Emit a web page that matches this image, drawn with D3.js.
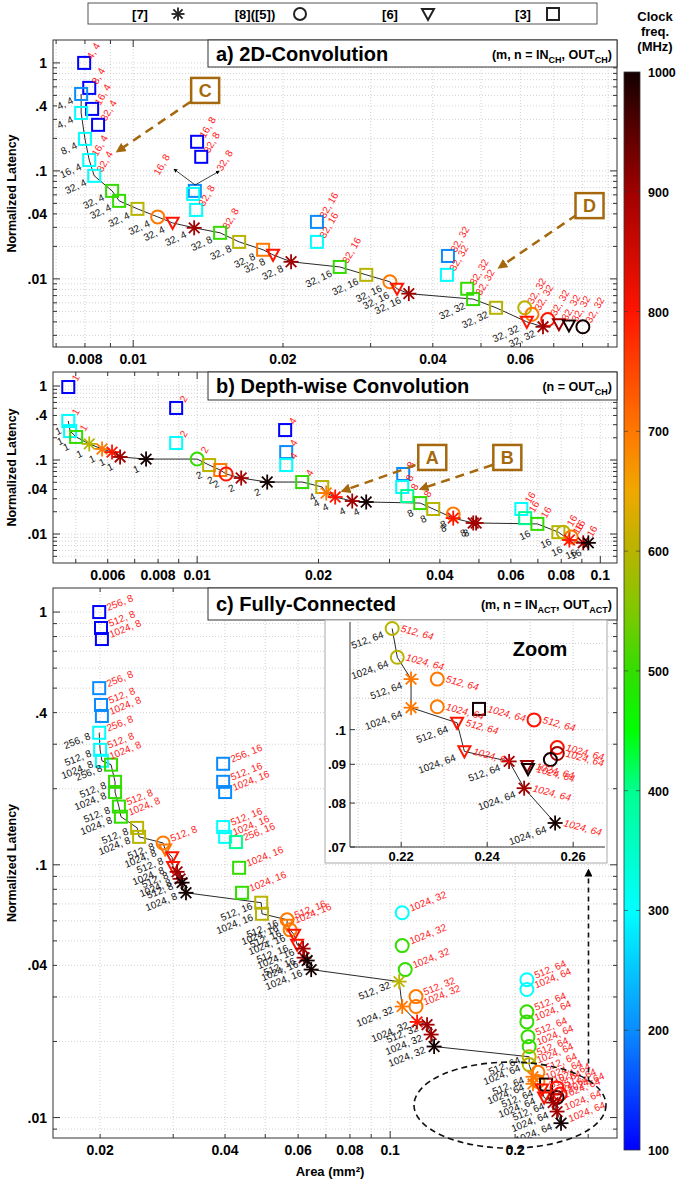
<!DOCTYPE html>
<html>
<head>
<meta charset="utf-8">
<script src="https://cdn.jsdelivr.net/npm/d3@7"></script>
<style>
  body { margin: 0; background: #fff; }
  svg { font-family: "Liberation Sans", Arial, Helvetica, sans-serif; }
</style>
</head>
<body>
<div id="wrapper"></div>
<script>
// ---- colour map (clock frequency, MHz) ----
const freqStops  = [100, 200, 300, 400, 450, 500, 550, 600, 650, 700, 800, 900, 1000]
const freqColors = ["#0000ff", "#0a8cff", "#00ffff", "#00ff90", "#00ff00", "#33dd00", "#80c800",
                    "#b8b400", "#f0a800", "#ff7800", "#ff1400", "#a00000", "#140000"]
const colorbarTicks = [100, 200, 300, 400, 500, 600, 700, 800, 900, 1000]

// ---- legend ----
const legendRefs   = ["[7]", "[8]([5])", "[6]", "[3]"]
const legendShapes = ["ast", "ci", "tri", "sq"]

// ---- axis ticks ----
const yTickValues = [1, 0.4, 0.1, 0.04, 0.01]
const yTickLabels = ["1", ".4", ".1", ".04", ".01"]
const xTicksA  = [0.008, 0.01, 0.02, 0.04, 0.06]
const xLabelsA = ["0.008", "0.01", "0.02", "0.04", "0.06"]
const xTicksB  = [0.006, 0.008, 0.01, 0.02, 0.04, 0.06, 0.08, 0.1]
const xLabelsB = ["0.006", "0.008", "0.01", "0.02", "0.04", "0.06", "0.08", "0.1"]
const xTicksC  = [0.02, 0.04, 0.06, 0.08, 0.1, 0.2]
const xLabelsC = ["0.02", "0.04", "0.06", "0.08", "0.1", "0.2"]
const zoomXTicks  = [0.22, 0.24, 0.26]
const zoomXLabels = ["0.22", "0.24", "0.26"]
const zoomYTicks  = [0.1, 0.09, 0.08, 0.07]
const zoomYLabels = [".1", ".09", ".08", ".07"]

// ---- data: [area mm2, normalized latency, MHz, marker, on front, black label, red label] ----
const conv2d = [
  [0.00797, 1.0,    100, "sq", 0, "", "4, 4"],
  [0.00816, 0.587,  100, "sq", 0, "", "8, 4"],
  [0.00786, 0.516,  200, "sq", 1, "4, 4", ""],
  [0.00827, 0.375,  100, "sq", 0, "", "16, 4"],
  [0.00786, 0.344,  300, "sq", 1, "4, 4", ""],
  [0.0085,  0.267,  100, "sq", 0, "", "32, 4"],
  [0.0080,  0.198,  300, "sq", 1, "8, 4", ""],
  [0.00816, 0.126,  300, "sq", 1, "16, 4", "16, 4"],
  [0.00835, 0.090,  300, "sq", 1, "32, 4", "32, 4"],
  [0.00907, 0.0653, 500, "sq", 1, "32, 4", ""],
  [0.00937, 0.0528, 500, "sq", 1, "32, 4", ""],
  [0.0102,  0.0445, 600, "sq", 1, "32, 4", ""],
  [0.0112,  0.0375, 700, "ci", 1, "32, 4", ""],
  [0.0120,  0.0330, 800, "tri", 1, "32, 4", ""],
  [0.01326, 0.0297, 900, "ast", 1, "32, 4", ""],
  [0.01344, 0.186,  100, "sq", 0, "", "16, 8"],
  [0.0137,  0.135,  100, "sq", 0, "", "32, 8"],
  [0.0133,  0.0653, 200, "sq", 0, "", ""],
  [0.0132,  0.0612, 300, "sq", 0, "", ""],
  [0.01338, 0.0435, 300, "sq", 0, "", "32, 8"],
  [0.01495, 0.0267, 500, "sq", 1, "32, 8", "32, 8"],
  [0.01633, 0.0220, 600, "sq", 1, "32, 8", ""],
  [0.01824, 0.0186, 700, "sq", 1, "32, 8", ""],
  [0.0191,  0.0167, 800, "tri", 1, "32, 8", ""],
  [0.02076, 0.0144, 900, "ast", 1, "32, 8", ""],
  [0.0234,  0.0337, 200, "sq", 0, "", "32, 16"],
  [0.0234,  0.0220, 300, "sq", 0, "", "32, 16"],
  [0.0260,  0.0129, 500, "sq", 1, "32, 16", "32, 16"],
  [0.0294,  0.0109, 600, "sq", 1, "32, 16", ""],
  [0.0328,  0.0094, 700, "ci", 1, "32, 16", ""],
  [0.0339,  0.0081, 800, "tri", 1, "32, 16", ""],
  [0.0358,  0.0073, 900, "ast", 1, "32, 16", ""],
  [0.0429,  0.0163, 200, "sq", 0, "", "32, 32"],
  [0.0427,  0.0109, 300, "sq", 0, "", "32, 32"],
  [0.0469,  0.0081, 500, "sq", 0, "", "32, 32"],
  [0.0482,  0.0065, 500, "sq", 1, "32, 32", "32, 32"],
  [0.0536,  0.0054, 600, "sq", 1, "32, 32", ""],
  [0.0612,  0.0054, 600, "ci", 0, "", "32, 32"],
  [0.0633,  0.0047, 700, "ci", 0, "", "32, 32"],
  [0.0618,  0.0040, 800, "tri", 1, "32, 32", ""],
  [0.0681,  0.0042, 800, "ci", 0, "", "32, 32"],
  [0.0666,  0.0036, 900, "ast", 1, "32, 32", ""],
  [0.0717,  0.0038, 900, "tri", 0, "", "32, 32"],
  [0.0751,  0.0037, 1000, "tri", 0, "", "32, 32"],
  [0.0801,  0.0036, 1000, "ci", 0, "", "32, 32"],
]

const depthwise = [
  [0.00479, 0.969,  100, "sq", 0, "", "1"],
  [0.00479, 0.337,  300, "sq", 1, "1", "1"],
  [0.00484, 0.246,  300, "sq", 1, "1", ""],
  [0.00501, 0.205,  500, "sq", 1, "1", "1"],
  [0.00540, 0.165,  600, "ast", 1, "1", ""],
  [0.00581, 0.141,  700, "ast", 1, "1", ""],
  [0.00615, 0.128,  800, "ast", 1, "1", ""],
  [0.00644, 0.110,  900, "ast", 1, "1", ""],
  [0.00747, 0.103,  1000, "ast", 1, "1", ""],
  [0.00887, 0.505,  100, "sq", 0, "", "2"],
  [0.00887, 0.170,  300, "sq", 0, "", "2"],
  [0.0100,  0.103,  500, "ci", 1, "", "2"],
  [0.01071, 0.0855, 600, "sq", 1, "2", ""],
  [0.01141, 0.0732, 700, "sq", 1, "2", ""],
  [0.0118,  0.0647, 800, "ci", 1, "2", ""],
  [0.01286, 0.0571, 900, "ast", 1, "2", ""],
  [0.01492, 0.0504, 1000, "ast", 1, "2", ""],
  [0.01653, 0.254,  100, "sq", 0, "", "4"],
  [0.01663, 0.128,  200, "sq", 0, "", "4"],
  [0.01663, 0.0855, 300, "sq", 0, "", "4"],
  [0.01822, 0.0504, 500, "sq", 1, "", "4"],
  [0.02043, 0.0432, 600, "sq", 1, "4", ""],
  [0.0209,  0.0358, 700, "ast", 1, "4", ""],
  [0.0220,  0.0316, 800, "ast", 1, "4", ""],
  [0.02425, 0.0279, 900, "ast", 1, "4", ""],
  [0.02626, 0.0271, 1000, "ast", 1, "4", ""],
  [0.03244, 0.0647, 200, "sq", 0, "", "8"],
  [0.03226, 0.0432, 300, "sq", 0, "", "8"],
  [0.0332,  0.0326, 400, "sq", 0, "", "8"],
  [0.03575, 0.0262, 500, "sq", 1, "8", "8"],
  [0.03851, 0.0218, 600, "sq", 1, "8", ""],
  [0.04317, 0.0186, 700, "ci", 0, "8", ""],
  [0.04317, 0.0164, 800, "ast", 1, "8", ""],
  [0.04839, 0.0141, 900, "ast", 1, "8", ""],
  [0.0492,  0.0141, 900, "ast", 1, "8", ""],
  [0.0637,  0.0218, 300, "sq", 0, "", "16"],
  [0.0651,  0.0164, 400, "sq", 0, "", "16"],
  [0.0698,  0.0137, 500, "sq", 1, "16", "16"],
  [0.0787,  0.0106, 600, "sq", 1, "16", ""],
  [0.0809,  0.0106, 600, "ci", 0, "", "16"],
  [0.0847,  0.0091, 700, "ci", 0, "", "16"],
  [0.0838,  0.0083, 800, "ast", 1, "16", "16"],
  [0.0907,  0.0076, 900, "ast", 1, "16", "16"],
  [0.0934,  0.0076, 1000, "ast", 1, "16", ""],
]

const fullyConnected = [
  [0.0199, 1.0,   100, "sq", 0, "", "256, 8"],
  [0.0201, 0.865, 100, "sq", 0, "", "512, 8"],
  [0.0202, 0.782, 100, "sq", 0, "", "1024, 8"],
  [0.0199, 0.50,  200, "sq", 0, "", "256, 8"],
  [0.0201, 0.429, 200, "sq", 0, "", "512, 8"],
  [0.0202, 0.388, 200, "sq", 0, "", "1024, 8"],
  [0.0199, 0.333, 300, "sq", 1, "256, 8", "256, 8"],
  [0.0200, 0.285, 300, "sq", 1, "512, 8", "512, 8"],
  [0.0202, 0.258, 300, "sq", 1, "1024, 8", "1024, 8"],
  [0.02125, 0.249, 500, "sq", 1, "256, 8", ""],
  [0.02173, 0.213, 500, "sq", 1, "512, 8", ""],
  [0.02173, 0.194, 500, "sq", 1, "1024, 8", ""],
  [0.0222,  0.170, 500, "sq", 1, "512, 8", "512, 8"],
  [0.02245, 0.155, 500, "sq", 1, "1024, 8", "1024, 8"],
  [0.02456, 0.140, 600, "sq", 1, "512, 8", ""],
  [0.02483, 0.129, 600, "sq", 1, "1024, 8", ""],
  [0.02837, 0.122, 700, "ci", 1, "512, 8", "512, 8"],
  [0.02869, 0.115, 700, "tri", 1, "1024, 8", ""],
  [0.02982, 0.107, 800, "tri", 1, "512, 8", ""],
  [0.02998, 0.098, 800, "tri", 1, "1024, 8", ""],
  [0.03065, 0.0938, 900, "ast", 1, "512, 8", ""],
  [0.03117, 0.088,  900, "ast", 1, "1024, 8", ""],
  [0.03151, 0.085,  1000, "ast", 1, "512, 8", ""],
  [0.03221, 0.0775, 1000, "ast", 1, "1024, 8", ""],
  [0.03958, 0.251, 200, "sq", 0, "", "256, 16"],
  [0.03958, 0.213, 200, "sq", 0, "", "512, 16"],
  [0.04002, 0.194, 200, "sq", 0, "", "1024, 16"],
  [0.03958, 0.141, 300, "sq", 0, "", "512, 16"],
  [0.04002, 0.129, 300, "sq", 0, "", "1024, 16"],
  [0.0425,  0.123, 400, "sq", 0, "", "256, 16"],
  [0.04325, 0.0973, 500, "sq", 0, "", "1024, 16"],
  [0.04396, 0.0775, 500, "sq", 0, "", "1024, 16"],
  [0.0489,  0.0708, 600, "sq", 1, "512, 16", ""],
  [0.0491,  0.064,  600, "sq", 1, "1024, 16", ""],
  [0.05644, 0.0606, 700, "ci", 1, "512, 16", "512, 16"],
  [0.05644, 0.0579, 700, "tri", 1, "1024, 16", "1024, 16"],
  [0.0574,  0.0553, 700, "ci", 1, "512, 16", ""],
  [0.05868, 0.0529, 800, "tri", 1, "1024, 16", ""],
  [0.05967, 0.0483, 800, "tri", 1, "512, 16", ""],
  [0.06169, 0.0466, 900, "ast", 1, "1024, 16", ""],
  [0.06203, 0.0429, 900, "ast", 1, "512, 16", ""],
  [0.0631,  0.0418, 1000, "ast", 1, "1024, 16", ""],
  [0.06451, 0.0385, 1000, "ast", 1, "1024, 16", ""],
  [0.1069, 0.0646, 300, "ci", 0, "", "1024, 32"],
  [0.1069, 0.0479, 500, "ci", 0, "", "1024, 32"],
  [0.1087, 0.0385, 500, "ci", 0, "", "1024, 32"],
  [0.1051, 0.0345, 600, "ast", 1, "512, 32", ""],
  [0.1154, 0.0301, 700, "ci", 0, "", "512, 32"],
  [0.1154, 0.0275, 700, "ci", 0, "", "1024, 32"],
  [0.1069, 0.0275, 700, "ast", 1, "1024, 32", ""],
  [0.1161, 0.0239, 800, "ast", 1, "1024, 32", ""],
  [0.1227, 0.0233, 900, "ast", 1, "512, 32", ""],
  [0.1255, 0.0213, 900, "ast", 1, "1024, 32", ""],
  [0.1276, 0.0191, 1000, "ast", 1, "1024, 32", ""],
  [0.2135, 0.0351, 300, "ci", 0, "", "512, 64"],
  [0.2135, 0.0321, 300, "ci", 0, "", "1024, 64"],
  [0.2135, 0.0262, 500, "ci", 0, "", "512, 64"],
  [0.2135, 0.0239, 500, "ci", 0, "", "1024, 64"],
  [0.2148, 0.0209, 500, "ci", 0, "", "512, 64"],
  [0.2162, 0.0191, 500, "ci", 0, "", "1024, 64"],
  [0.2162, 0.0174, 600, "ci", 1, "512, 64", "512, 64"],
  [0.2162, 0.0162, 600, "ci", 1, "1024, 64", "1024, 64"],
  [0.2209, 0.0145, 700, "ast", 1, "512, 64", ""],
  [0.227,  0.0151, 700, "ci", 0, "", "512, 64"],
  [0.2209, 0.0136, 700, "ast", 1, "1024, 64", ""],
  [0.227,  0.0139, 700, "ci", 0, "", "1024, 64"],
  [0.2375, 0.0135, 1000, "sq", 0, "", "1024, 64"],
  [0.2322, 0.0129, 800, "tri", 1, "512, 64", "512, 64"],
  [0.2349, 0.0120, 800, "tri", 1, "1024, 64", "1024, 64"],
  [0.2524, 0.0131, 800, "ci", 0, "", "512, 64"],
  [0.2567, 0.0124, 800, "ci", 0, "", "1024, 64"],
  [0.2524, 0.0120, 1000, "ci", 0, "", ""],
  [0.247,  0.01146, 900, "ast", 1, "512, 64", ""],
  [0.251,  0.0118, 900, "tri", 0, "", "1024, 64"],
  [0.2524, 0.01056, 900, "ast", 1, "1024, 64", "1024, 64"],
  [0.258,  0.0095, 1000, "ast", 1, "1024, 64", "1024, 64"],
]

const fcZoom = [
  [0.2179, 0.136,  600, "ci", 1, "512, 64", "512, 64"],
  [0.2191, 0.1246, 600, "ci", 1, "1024, 64", "1024, 64"],
  [0.2223, 0.1166, 700, "ast", 1, "512, 64", ""],
  [0.2223, 0.1069, 700, "ast", 1, "1024, 64", ""],
  [0.2330, 0.1021, 800, "tri", 1, "512, 64", "512, 64"],
  [0.2347, 0.0936, 800, "tri", 1, "1024, 64", "1024, 64"],
  [0.2451, 0.0908, 900, "ast", 1, "512, 64", ""],
  [0.2486, 0.0837, 900, "ast", 1, "1024, 64", "1024, 64"],
  [0.2558, 0.0753, 1000, "ast", 1, "1024, 64", "1024, 64"],
  [0.2284, 0.1166, 700, "ci", 0, "", "512, 64"],
  [0.2284, 0.1072, 700, "ci", 0, "", "1024, 64"],
  [0.2381, 0.1065, 1000, "sq", 0, "", "1024, 64"],
  [0.2509, 0.103,  800, "ci", 0, "", "512, 64"],
  [0.2493, 0.0895, 900, "tri", 0, "", "1024, 64"],
  [0.2495, 0.0887, 1000, "tri", 0, "", "1024, 64"],
  [0.2563, 0.0947, 800, "ci", 0, "", "1024, 64"],
  [0.2563, 0.0930, 900, "ci", 0, "", "1024, 64"],
  [0.2547, 0.0913, 1000, "ci", 0, "", ""],
]

// ---- call-outs (data coordinates) ----
const calloutBoxes = [
  { panel: "a", text: "C", at: [0.01395, 0.562], from: [0.01302, 0.435], to: [0.0094, 0.157] },
  { panel: "a", text: "D", at: [0.0826, 0.0482], from: [0.0779, 0.0393], to: [0.0550, 0.0132] },
  { panel: "b", text: "A", at: [0.0383, 0.110], from: [0.0348, 0.0855], to: [0.0233, 0.0393] },
  { panel: "b", text: "B", at: [0.0588, 0.110], from: [0.0540, 0.0855], to: [0.0364, 0.0418] },
]

const W = 686, H = 1184
const plotLeft = 53, plotRight = 617
const brown = "#a5680c"
const redText = "#ff1a1a"

const color = d3.scaleLinear().domain(freqStops).range(freqColors)

const svg = d3.select("#wrapper").append("svg")
  .attr("width", W).attr("height", H)

const defs = svg.append("defs")
defs.append("marker").attr("id", "head-brown").attr("viewBox", "0 0 10 10")
  .attr("refX", 5).attr("refY", 5).attr("markerWidth", 4).attr("markerHeight", 4)
  .attr("orient", "auto").append("path").attr("d", "M0,0L10,5L0,10Z").attr("fill", brown)
defs.append("marker").attr("id", "head-black").attr("viewBox", "0 0 10 10")
  .attr("refX", 5).attr("refY", 5).attr("markerWidth", 5).attr("markerHeight", 5)
  .attr("orient", "auto").append("path").attr("d", "M0,0L10,5L0,10Z").attr("fill", "#000")

function drawShape(sel, type, col, s) {
  if (type === "sq") {
    sel.append("rect").attr("x", -s / 2).attr("y", -s / 2).attr("width", s).attr("height", s)
      .attr("fill", "none").attr("stroke", col).attr("stroke-width", 2)
  } else if (type === "ci") {
    sel.append("circle").attr("r", s / 2).attr("fill", "none").attr("stroke", col).attr("stroke-width", 2)
  } else if (type === "tri") {
    sel.append("path").attr("d", `M${-s / 2},${-s * 0.42}L${s / 2},${-s * 0.42}L0,${s * 0.5}Z`)
      .attr("fill", "none").attr("stroke", col).attr("stroke-width", 2)
  } else {
    const r = s / 2
    ;[0, 45, 90, 135].forEach(a => {
      const rad = a * Math.PI / 180
      sel.append("line")
        .attr("x1", -r * Math.cos(rad)).attr("y1", -r * Math.sin(rad))
        .attr("x2", r * Math.cos(rad)).attr("y2", r * Math.sin(rad))
        .attr("stroke", col).attr("stroke-width", 1.8)
    })
  }
}

function logMinor(domain) {
  const out = []
  const e0 = Math.floor(Math.log10(domain[0])), e1 = Math.ceil(Math.log10(domain[1]))
  for (let e = e0; e <= e1; e++) {
    for (let k = 1; k <= 9; k++) {
      const v = k * Math.pow(10, e)
      if (v >= domain[0] && v <= domain[1]) out.push({ v, major: k === 1 })
    }
  }
  return out
}

function subText(sel, x, y, parts, size) {
  const t = sel.append("text").attr("x", x).attr("y", y).attr("text-anchor", "end")
    .attr("font-size", size).attr("font-weight", "bold")
  let shifted = false
  parts.forEach(([s, sub]) => {
    const ts = t.append("tspan").text(s)
    if (sub && !shifted) { ts.attr("dy", 4).attr("font-size", size * 0.72); shifted = true }
    else if (!sub && shifted) { ts.attr("dy", -4); shifted = false }
    else if (sub) ts.attr("font-size", size * 0.72)
  })
}

function drawPoints(g, data, x, y, opt) {
  const front = data.filter(d => d[4])
  g.append("path").datum(front)
    .attr("d", d3.line().x(d => x(d[0])).y(d => y(d[1])))
    .attr("fill", "none").attr("stroke", "#111").attr("stroke-width", 0.9)

  data.forEach(d => {
    const m = g.append("g").attr("transform", `translate(${x(d[0])},${y(d[1])})`)
    drawShape(m, d[3], color(d[2]), d[3] === "ci" ? 13 : d[3] === "ast" ? 15 : 12)
  })

  data.filter(d => d[5]).forEach(d => {
    const px = x(d[0]) + opt.bdx, py = y(d[1]) + opt.bdy
    g.append("text").attr("transform", `translate(${px},${py}) rotate(${opt.brot})`)
      .attr("text-anchor", "end").attr("font-size", opt.fs).attr("fill", "#111").text(d[5])
  })
  data.filter(d => d[6]).forEach(d => {
    const px = x(d[0]) + opt.rdx, py = y(d[1]) + opt.rdy
    g.append("text").attr("transform", `translate(${px},${py}) rotate(${opt.rrot})`)
      .attr("text-anchor", "start").attr("font-size", opt.fs).attr("fill", redText)
      .attr("font-style", opt.italic ? "italic" : "normal").text(d[6])
  })
}

const panels = [
  { id: "a", top: 40, bottom: 347, xDomain: [0.0069, 0.0938], yDomain: [0.00234, 1.63],
    xTicks: xTicksA, xLabels: xLabelsA, data: conv2d, titleH: 27,
    title: "a) 2D-Convolution",
    sub: [["(m, n = IN", 0], ["CH", 1], [", OUT", 0], ["CH", 1], [")", 0]],
    lab: { bdx: -7, bdy: 9, brot: -25, rdx: 8, rdy: -3, rrot: -60, fs: 10 } },
  { id: "b", top: 372, bottom: 563, xDomain: [0.00439, 0.110], yDomain: [0.00406, 1.546],
    xTicks: xTicksB, xLabels: xLabelsB, data: depthwise, titleH: 28,
    title: "b) Depth-wise Convolution",
    sub: [["(n = OUT", 0], ["CH", 1], [")", 0]],
    lab: { bdx: -6, bdy: 12, brot: -25, rdx: 9, rdy: -5, rrot: -60, fs: 10 } },
  { id: "c", top: 588, bottom: 1138, xDomain: [0.0154, 0.352], yDomain: [0.0083, 1.245],
    xTicks: xTicksC, xLabels: xLabelsC, data: fullyConnected, titleH: 32,
    title: "c) Fully-Connected",
    sub: [["(m, n = IN", 0], ["ACT", 1], [", OUT", 0], ["ACT", 1], [")", 0]],
    lab: { bdx: -8, bdy: 6, brot: -22, rdx: 9, rdy: -1, rrot: -22, fs: 10 } },
]

const scales = {}

panels.forEach(p => {
  const x = d3.scaleLog().domain(p.xDomain).range([plotLeft, plotRight])
  const y = d3.scaleLog().domain(p.yDomain).range([p.bottom, p.top])
  scales[p.id] = { x, y }
  const g = svg.append("g")

  defs.append("clipPath").attr("id", "clip-" + p.id).append("rect")
    .attr("x", plotLeft).attr("y", p.top).attr("width", plotRight - plotLeft).attr("height", p.bottom - p.top)

  const gx = logMinor(p.xDomain), gy = logMinor(p.yDomain)
  g.selectAll(".gx").data(gx).join("line")
    .attr("x1", d => x(d.v)).attr("x2", d => x(d.v)).attr("y1", p.top).attr("y2", p.bottom)
    .attr("stroke", "#c8c8c8").attr("stroke-width", 0.8).attr("stroke-dasharray", "1,2")
  g.selectAll(".gy").data(gy).join("line")
    .attr("y1", d => y(d.v)).attr("y2", d => y(d.v)).attr("x1", plotLeft).attr("x2", plotRight)
    .attr("stroke", "#c8c8c8").attr("stroke-width", 0.8).attr("stroke-dasharray", "1,2")

  // frame ticks
  gy.forEach(d => {
    const len = d.major ? 7 : 4
    g.append("line").attr("x1", plotLeft).attr("x2", plotLeft + len).attr("y1", y(d.v)).attr("y2", y(d.v)).attr("stroke", "#333")
    g.append("line").attr("x1", plotRight).attr("x2", plotRight - len).attr("y1", y(d.v)).attr("y2", y(d.v)).attr("stroke", "#333")
  })
  gx.forEach(d => {
    const len = d.major ? 7 : 4
    g.append("line").attr("y1", p.bottom).attr("y2", p.bottom - len).attr("x1", x(d.v)).attr("x2", x(d.v)).attr("stroke", "#333")
    g.append("line").attr("y1", p.top).attr("y2", p.top + len).attr("x1", x(d.v)).attr("x2", x(d.v)).attr("stroke", "#333")
  })

  g.append("rect").attr("x", plotLeft).attr("y", p.top)
    .attr("width", plotRight - plotLeft).attr("height", p.bottom - p.top)
    .attr("fill", "none").attr("stroke", "#333").attr("stroke-width", 1)

  // tick labels
  yTickValues.forEach((v, i) => {
    g.append("text").attr("x", plotLeft - 6).attr("y", y(v) + 5).attr("text-anchor", "end")
      .attr("font-size", 14).attr("font-weight", "bold").text(yTickLabels[i])
  })
  p.xTicks.forEach((v, i) => {
    g.append("text").attr("x", x(v)).attr("y", p.bottom + 17).attr("text-anchor", "middle")
      .attr("font-size", 14).attr("font-weight", "bold").text(p.xLabels[i])
  })

  g.append("text")
    .attr("transform", `translate(16,${(p.top + p.bottom) / 2}) rotate(-90)`)
    .attr("text-anchor", "middle").attr("font-size", 12.5).attr("font-weight", "bold")
    .text("Normalized Latency")

  const inner = g.append("g").attr("clip-path", `url(#clip-${p.id})`)
  drawPoints(inner, p.data, x, y, p.lab)

  // title box
  g.append("rect").attr("x", 208).attr("y", p.top).attr("width", plotRight - 208).attr("height", p.titleH)
    .attr("fill", "#fff").attr("stroke", "#333")
  g.append("text").attr("x", 216).attr("y", p.top + p.titleH / 2 + 7)
    .attr("font-size", 20).attr("font-weight", "bold").text(p.title)
  subText(g, plotRight - 5, p.top + p.titleH / 2 + 5, p.sub, 12.5)
})

// ---- extra marks in panel a: arrows for the (16,8)/(32,8) pair ----
{
  const { x, y } = scales.a
  const sx = x(0.01332), sy = y(0.0741)
  const ends = [[0.01214, 0.102, "16, 8", -16, 6], [0.01481, 0.098, "32, 8", 4, 0]]
  ends.forEach(([ex, ey, t, dx, dy]) => {
    svg.append("line").attr("x1", sx).attr("y1", sy).attr("x2", x(ex)).attr("y2", y(ey))
      .attr("stroke", "#111").attr("stroke-width", 0.8).attr("marker-end", "url(#head-black)")
    svg.append("text").attr("transform", `translate(${x(ex) + dx},${y(ey) + dy}) rotate(-60)`)
      .attr("font-size", 10).attr("fill", redText).text(t)
  })
}

// ---- call-out boxes ----
calloutBoxes.forEach(c => {
  const { x, y } = scales[c.panel]
  svg.append("line").attr("x1", x(c.from[0])).attr("y1", y(c.from[1]))
    .attr("x2", x(c.to[0])).attr("y2", y(c.to[1]))
    .attr("stroke", brown).attr("stroke-width", 2.5).attr("stroke-dasharray", "9,6")
    .attr("marker-end", "url(#head-brown)")
  const bx = x(c.at[0]), by = y(c.at[1])
  svg.append("rect").attr("x", bx - 14).attr("y", by - 12).attr("width", 28).attr("height", 25)
    .attr("fill", "#fff").attr("stroke", brown).attr("stroke-width", 2.5)
  svg.append("text").attr("x", bx).attr("y", by + 7).attr("text-anchor", "middle")
    .attr("font-size", 18).attr("font-weight", "bold").attr("fill", brown).text(c.text)
})

// ---- panel c: dashed ellipse and arrow to zoom ----
{
  const { x, y } = scales.c
  svg.append("ellipse").attr("cx", x(0.1944)).attr("cy", y(0.0112)).attr("rx", 96).attr("ry", 43)
    .attr("fill", "none").attr("stroke", "#111").attr("stroke-width", 1.6).attr("stroke-dasharray", "6,4")
  svg.append("line").attr("x1", x(0.3005)).attr("y1", y(0.0139)).attr("x2", x(0.3005)).attr("y2", y(0.0932))
    .attr("stroke", "#111").attr("stroke-width", 1.6).attr("stroke-dasharray", "5,4")
    .attr("marker-end", "url(#head-black)")
}

// ---- zoom inset ----
{
  const box = { x0: 325, y0: 620, x1: 607, y1: 863 }
  const area = { l: 350, r: 605, t: 622, b: 847 }
  const zx = d3.scaleLinear().domain([0.2081, 0.2674]).range([area.l, area.r])
  const zy = d3.scaleLog().domain([0.07, 0.1387]).range([area.b, area.t])
  const g = svg.append("g")
  g.append("rect").attr("x", box.x0).attr("y", box.y0).attr("width", box.x1 - box.x0)
    .attr("height", box.y1 - box.y0).attr("fill", "#fff").attr("stroke", "#aaa")
  const gxv = [0.21, 0.22, 0.23, 0.24, 0.25, 0.26]
  const gyv = [0.07, 0.08, 0.09, 0.1, 0.11, 0.12, 0.13]
  g.selectAll(".zgx").data(gxv).join("line")
    .attr("x1", d => zx(d)).attr("x2", d => zx(d)).attr("y1", area.t).attr("y2", area.b)
    .attr("stroke", "#c8c8c8").attr("stroke-dasharray", "1,2")
  g.selectAll(".zgy").data(gyv).join("line")
    .attr("y1", d => zy(d)).attr("y2", d => zy(d)).attr("x1", area.l).attr("x2", area.r)
    .attr("stroke", "#c8c8c8").attr("stroke-dasharray", "1,2")
  g.append("line").attr("x1", area.l).attr("x2", area.l).attr("y1", area.t).attr("y2", area.b).attr("stroke", "#333")
  g.append("line").attr("x1", area.l).attr("x2", area.r).attr("y1", area.b).attr("y2", area.b).attr("stroke", "#333")
  zoomXTicks.forEach((v, i) => {
    g.append("line").attr("x1", zx(v)).attr("x2", zx(v)).attr("y1", area.b).attr("y2", area.b - 5).attr("stroke", "#333")
    g.append("text").attr("x", zx(v)).attr("y", area.b + 14).attr("text-anchor", "middle")
      .attr("font-size", 13).attr("font-weight", "bold").text(zoomXLabels[i])
  })
  zoomYTicks.forEach((v, i) => {
    g.append("line").attr("x1", area.l).attr("x2", area.l + 5).attr("y1", zy(v)).attr("y2", zy(v)).attr("stroke", "#333")
    g.append("text").attr("x", area.l - 4).attr("y", zy(v) + 5).attr("text-anchor", "end")
      .attr("font-size", 13).attr("font-weight", "bold").text(zoomYLabels[i])
  })
  g.append("text").attr("x", 540).attr("y", 656).attr("text-anchor", "middle")
    .attr("font-size", 20).attr("font-weight", "bold").text("Zoom")
  defs.append("clipPath").attr("id", "clip-zoom").append("rect")
    .attr("x", area.l).attr("y", area.t - 4).attr("width", area.r - area.l + 2).attr("height", area.b - area.t + 4)
  const inner = g.append("g").attr("clip-path", "url(#clip-zoom)")
  drawPoints(inner, fcZoom, zx, zy, { bdx: -8, bdy: 9, brot: -20, rdx: 8, rdy: 3, rrot: 15, fs: 10, italic: true })
}

// ---- legend ----
{
  svg.append("rect").attr("x", 88).attr("y", 3).attr("width", 509).attr("height", 21)
    .attr("fill", "#fff").attr("stroke", "#555")
  const textX = [140, 255, 390, 523], markX = [178, 300, 428, 553]
  legendRefs.forEach((t, i) => {
    svg.append("text").attr("x", textX[i]).attr("y", 19).attr("text-anchor", "middle")
      .attr("font-size", 13).attr("font-weight", "bold").text(t)
    const m = svg.append("g").attr("transform", `translate(${markX[i]},14)`)
    drawShape(m, legendShapes[i], "#222", legendShapes[i] === "ast" ? 13 : 12)
  })
}

// ---- colour bar ----
{
  const cy = d3.scaleLinear().domain([100, 1000]).range([1150, 72])
  const grad = defs.append("linearGradient").attr("id", "cbar")
    .attr("x1", 0).attr("y1", 1).attr("x2", 0).attr("y2", 0)
  freqStops.forEach((f, i) => {
    grad.append("stop").attr("offset", (f - 100) / 900).attr("stop-color", freqColors[i])
  })
  svg.append("rect").attr("x", 624).attr("y", cy(1000)).attr("width", 16).attr("height", cy(100) - cy(1000))
    .attr("fill", "url(#cbar)").attr("stroke", "#333").attr("stroke-width", 0.8)
  colorbarTicks.forEach(v => {
    if (v > 100 && v < 1000) {
      svg.append("line").attr("x1", 624).attr("x2", 628).attr("y1", cy(v)).attr("y2", cy(v)).attr("stroke", "#333").attr("stroke-opacity", 0.6)
      svg.append("line").attr("x1", 636).attr("x2", 640).attr("y1", cy(v)).attr("y2", cy(v)).attr("stroke", "#333").attr("stroke-opacity", 0.6)
    }
    svg.append("text").attr("x", 648).attr("y", cy(v) + 5).attr("font-size", 12.5)
      .attr("font-weight", "bold").text(v)
  })
  ;["Clock", "freq.", "(MHz)"].forEach((t, i) => {
    svg.append("text").attr("x", 655).attr("y", 21 + i * 15).attr("text-anchor", "middle")
      .attr("font-size", 13).attr("font-weight", "bold").text(t)
  })
}

svg.append("text").attr("x", 330).attr("y", 1176).attr("text-anchor", "middle")
  .attr("font-size", 13).attr("font-weight", "bold").text("Area (mm²)")
</script>
</body>
</html>
